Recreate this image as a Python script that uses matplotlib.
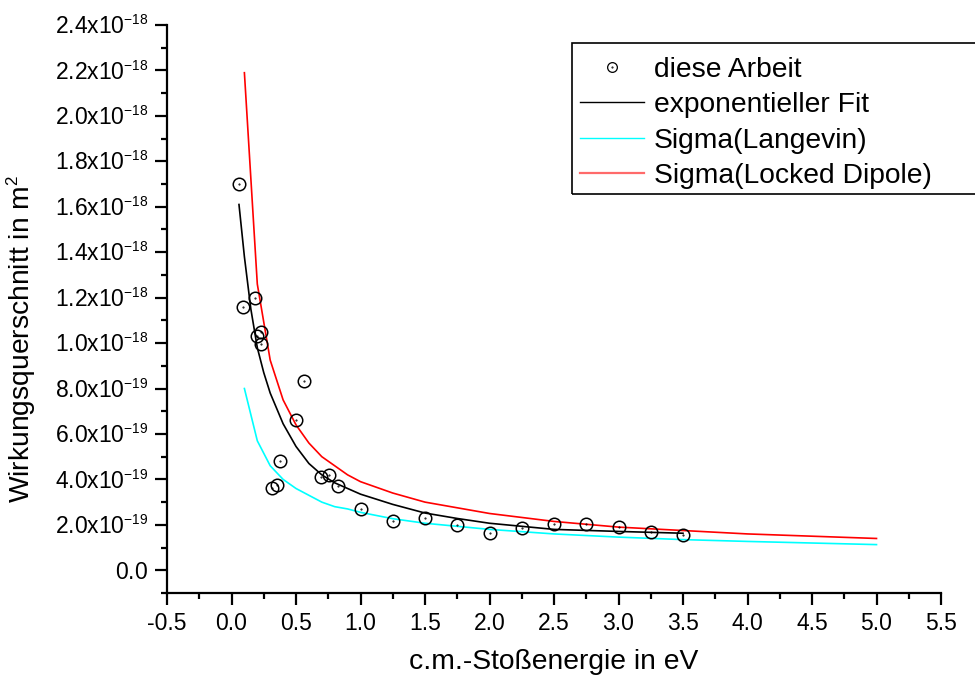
import numpy as np
import matplotlib
matplotlib.use("Agg")
import matplotlib.pyplot as plt
import matplotlib._mathtext as mathtext_mod
from matplotlib.lines import Line2D
from matplotlib.patches import Rectangle
from matplotlib.ticker import FixedLocator, MultipleLocator

plt.rcParams['font.family'] = ['Liberation Sans', 'DejaVu Sans']
plt.rcParams['mathtext.fontset'] = 'custom'
plt.rcParams['mathtext.rm'] = 'Liberation Sans'
# Origin draws the exponents quite small
mathtext_mod.SHRINK_FACTOR = 0.6

# measured cross sections (diese Arbeit), x in eV, y in 1e-18 m^2
e_meas = [0.058, 0.092, 0.185, 0.195, 0.229, 0.229, 0.314, 0.353, 0.378, 0.502,
          0.562, 0.696, 0.753, 0.828, 1.00, 1.25, 1.50, 1.75, 2.00, 2.25,
          2.50, 2.75, 3.00, 3.25, 3.50]
s_meas = [1.70, 1.16, 1.20, 1.03, 1.05, 0.996, 0.363, 0.374, 0.480, 0.661,
          0.835, 0.410, 0.421, 0.371, 0.268, 0.217, 0.232, 0.199, 0.164, 0.185,
          0.205, 0.205, 0.189, 0.170, 0.155]

# exponential fit
e_fit = [0.058, 0.10, 0.15, 0.20, 0.25, 0.30, 0.40, 0.50, 0.60, 0.70, 0.80,
         0.90, 1.00, 1.25, 1.50, 1.75, 2.00, 2.50, 3.00, 3.50]
s_fit = [1.61, 1.38, 1.15, 0.98, 0.87, 0.78, 0.645, 0.545, 0.47, 0.42, 0.385,
         0.36, 0.335, 0.29, 0.252, 0.228, 0.207, 0.18, 0.171, 0.163]

# theory curves
e_theo = [0.1, 0.2, 0.3, 0.4, 0.5, 0.6, 0.7, 0.8, 0.9, 1.0, 1.25, 1.5, 2.0,
          2.5, 3.0, 3.5, 4.0, 4.5, 5.0]
s_langevin = [0.80, 0.57, 0.46, 0.40, 0.36, 0.33, 0.30, 0.28, 0.27, 0.255,
              0.227, 0.207, 0.18, 0.16, 0.146, 0.135, 0.127, 0.12, 0.113]
s_locked = [2.19, 1.26, 0.925, 0.75, 0.64, 0.56, 0.50, 0.46, 0.42, 0.39,
            0.34, 0.30, 0.25, 0.215, 0.19, 0.175, 0.16, 0.15, 0.14]

x_ticks = [-0.5, 0.0, 0.5, 1.0, 1.5, 2.0, 2.5, 3.0, 3.5, 4.0, 4.5, 5.0, 5.5]
y_ticks = [0.0, 0.2, 0.4, 0.6, 0.8, 1.0, 1.2, 1.4, 1.6, 1.8, 2.0, 2.2, 2.4]
y_labels = ['0.0', '2.0x10^{-19}', '4.0x10^{-19}', '6.0x10^{-19}', '8.0x10^{-19}',
            '1.0x10^{-18}', '1.2x10^{-18}', '1.4x10^{-18}', '1.6x10^{-18}',
            '1.8x10^{-18}', '2.0x10^{-18}', '2.2x10^{-18}', '2.4x10^{-18}']
series_names = ['diese Arbeit', 'exponentieller Fit', 'Sigma(Langevin)', 'Sigma(Locked Dipole)']

scale = 1e-18

fig = plt.figure(figsize=(9.75, 6.82), dpi=100)
ax = fig.add_axes([167 / 975, 1 - 593 / 682, (941 - 167) / 975, (593 - 25) / 682])

ax.plot(e_theo, np.array(s_langevin) * scale, color='cyan', lw=1.2)
ax.plot(e_theo, np.array(s_locked) * scale, color='red', lw=1.2)
ax.plot(e_fit, np.array(s_fit) * scale, color='black', lw=1.2)
ax.plot(e_meas, np.array(s_meas) * scale, 'o', ms=9, mfc='none', mec='black', mew=1.1)
ax.plot(e_meas, np.array(s_meas) * scale, '.', ms=1, color='black')

ax.set_xlim(-0.5, 5.5)
ax.set_ylim(-0.1 * scale, 2.4 * scale)
for s in ['top', 'right']:
    ax.spines[s].set_visible(False)
for s in ['left', 'bottom']:
    ax.spines[s].set_linewidth(1.6)

ax.xaxis.set_major_locator(FixedLocator(x_ticks))
ax.set_xticklabels([f'{v:.1f}' for v in x_ticks])
ax.xaxis.set_minor_locator(MultipleLocator(0.25))
ax.yaxis.set_major_locator(FixedLocator([v * scale for v in y_ticks]))
ax.set_yticklabels(['$\\mathregular{' + t + '}$' for t in y_labels])
ax.yaxis.set_minor_locator(MultipleLocator(0.1 * scale))
ax.tick_params(which='major', direction='out', length=8.5, width=1.6, labelsize=16.5)
ax.tick_params(axis='x', which='major', pad=5)
ax.tick_params(axis='y', which='major', pad=5)
ax.tick_params(which='minor', direction='out', length=4.3, width=1.6)

ax.set_xlabel('c.m.-Stoßenergie in eV', fontsize=20.3, labelpad=10)
ax.set_ylabel('Wirkungsquerschnitt in m$^\\mathregular{2}$', fontsize=20.3)
ax.yaxis.set_label_coords(-0.167, 0.447)

handles = [
    (Line2D([], [], ls='none', marker='o', ms=7, mfc='none', mec='black', mew=0.9),
     Line2D([], [], ls='none', marker='.', ms=1, color='black')),
    Line2D([], [], color='black', lw=1.0),
    Line2D([], [], color='cyan', lw=1.0),
    Line2D([], [], color='#ff6a6a', lw=1.6),
]
leg = ax.legend(handles, series_names, loc='upper left', bbox_to_anchor=(580 / 975, 1 - 57 / 682),
                bbox_transform=fig.transFigure, fontsize=20.3, frameon=False,
                handlelength=2.27, handletextpad=0.36, labelspacing=0.33, borderpad=0,
                borderaxespad=0)
# legend frame runs off the right edge of the picture
fig.patches.append(Rectangle((572 / 975, 1 - 194 / 682), 420 / 975, 151 / 682,
                             transform=fig.transFigure, fill=False, ec='black', lw=1.2))

fig.savefig('out.png', dpi=100, facecolor='white')
